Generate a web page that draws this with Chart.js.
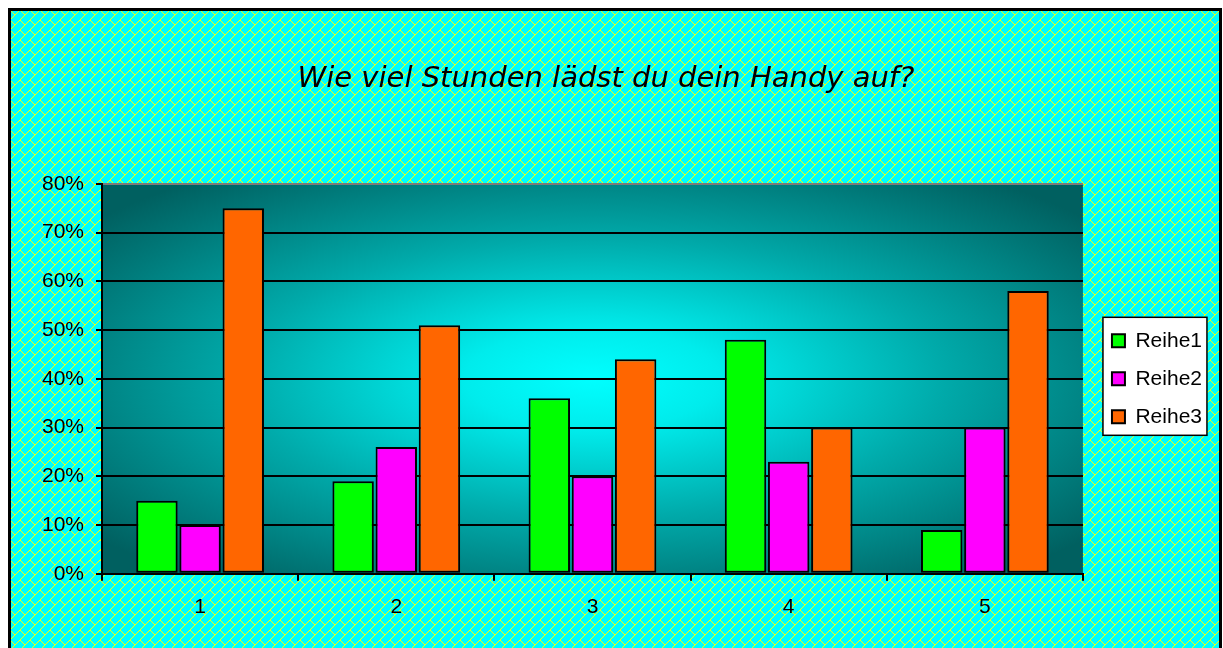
<!DOCTYPE html>
<html>
<head>
<meta charset="utf-8">
<script src="https://cdn.jsdelivr.net/npm/chart.js@4"></script>
<style>
  html, body { margin: 0; padding: 0; background: #fff; }
  #wrap { width: 1223px; height: 648px; }
</style>
</head>
<body>
<div id="wrap"><canvas id="chart" width="1223" height="648"></canvas></div>
<script>
// data
const categories = ['1', '2', '3', '4', '5'];
const reihe1 = [15, 19, 36, 48, 9];
const reihe2 = [10, 26, 20, 23, 30];
const reihe3 = [75, 51, 44, 30, 58];
const seriesNames = ['Reihe1', 'Reihe2', 'Reihe3'];
const yMax = 80;
const yStep = 10;

const tickFont = { family: '"Liberation Sans", Arial, sans-serif', size: 21 };

// cyan / yellow diagonal brick fill like the old Excel pattern
function brickPattern(ctx) {
  const n = 10;
  const c = document.createElement('canvas');
  c.width = n; c.height = n;
  const p = c.getContext('2d');
  p.fillStyle = '#00ffff';
  p.fillRect(0, 0, n, n);
  p.fillStyle = '#ffff00';
  for (let i = 0; i < n; i++) p.fillRect(n - 1 - i, i, 1, 1);
  for (let i = 0; i < 5; i++) p.fillRect(i, i, 1, 1);
  return ctx.createPattern(c, 'repeat');
}

const backgroundPlugin = {
  id: 'background',
  beforeDraw(chart) {
    const { ctx, chartArea: a } = chart;
    ctx.save();
    ctx.fillStyle = '#fff';
    ctx.fillRect(0, 0, chart.width, chart.height);
    ctx.fillStyle = '#000';
    ctx.fillRect(8, 8, 1214, 700);
    ctx.fillStyle = brickPattern(ctx);
    ctx.fillRect(11, 11, 1208, 700);

    // plot area: bright in the middle, dark teal at the edges
    ctx.save();
    ctx.beginPath();
    ctx.rect(a.left, a.top, a.width, a.height);
    ctx.clip();
    ctx.translate((a.left + a.right) / 2, (a.top + a.bottom) / 2);
    ctx.scale(a.width / 2, a.height / 2);
    const g = ctx.createRadialGradient(0, 0, 0, 0, 0, 1.3);
    g.addColorStop(0, '#00ffff');
    g.addColorStop(0.2, '#00ecec');
    g.addColorStop(0.55, '#00aaaa');
    g.addColorStop(0.85, '#007878');
    g.addColorStop(1, '#006060');
    ctx.fillStyle = g;
    ctx.fillRect(-1, -1, 2, 2);
    ctx.restore();

    // white legend box
    const boxes = chart.legend && chart.legend.legendHitBoxes;
    if (boxes && boxes.length) {
      const first = boxes[0], last = boxes[boxes.length - 1];
      const x = first.left - 9;
      const y = first.top - 13;
      const w = 104;
      const h = last.top + last.height + 8 - y;
      ctx.fillStyle = '#fff';
      ctx.fillRect(x, y, w, h);
      ctx.strokeStyle = '#000';
      ctx.lineWidth = 1.5;
      ctx.strokeRect(x, y, w, h);
    }
    ctx.restore();
  }
};

new Chart(document.getElementById('chart'), {
  type: 'bar',
  data: {
    labels: categories,
    datasets: [
      { label: seriesNames[0], data: reihe1, backgroundColor: '#00ff00' },
      { label: seriesNames[1], data: reihe2, backgroundColor: '#ff00ff' },
      { label: seriesNames[2], data: reihe3, backgroundColor: '#ff6600' }
    ].map(d => Object.assign(d, {
      borderColor: '#000',
      borderWidth: 2,
      borderSkipped: false,
      categoryPercentage: 0.66,
      barPercentage: 0.96
    }))
  },
  options: {
    responsive: false,
    animation: false,
    devicePixelRatio: 1,
    layout: { padding: { left: 0, right: 11, top: 0, bottom: 14 } },
    plugins: {
      title: {
        display: true,
        text: 'Wie viel Stunden lädst du dein Handy auf?',
        color: '#000',
        font: { family: '"DejaVu Sans", sans-serif', size: 29, style: 'italic', weight: 'normal' },
        padding: { top: 62, bottom: 87 }
      },
      legend: {
        position: 'right',
        fullSize: false,
        labels: {
          color: '#000',
          font: tickFont,
          boxWidth: 13,
          boxHeight: 13,
          padding: 17
        }
      },
      tooltip: { enabled: false }
    },
    scales: {
      x: {
        grid: {
          display: true,
          drawOnChartArea: false,
          offset: true,
          color: '#000',
          lineWidth: 2,
          tickLength: 7
        },
        border: { color: '#000', width: 2 },
        ticks: { color: '#000', font: tickFont, padding: 14 }
      },
      y: {
        min: 0,
        max: yMax,
        afterFit(scale) { scale.width = 102; },
        grid: {
          color: c => (c.tick && c.tick.value === yMax ? '#7a7a7a' : '#000'),
          tickColor: '#000',
          lineWidth: 2,
          tickLength: 6
        },
        border: { color: '#000', width: 2 },
        ticks: {
          stepSize: yStep,
          color: '#000',
          font: tickFont,
          padding: 12,
          callback: v => v + '%'
        }
      },
      gap: {
        position: 'right',
        display: true,
        min: 0,
        max: 1,
        afterFit(scale) { scale.width = 12; },
        grid: { display: false },
        border: { display: false },
        ticks: { display: false }
      }
    }
  },
  plugins: [backgroundPlugin]
});
</script>
</body>
</html>
